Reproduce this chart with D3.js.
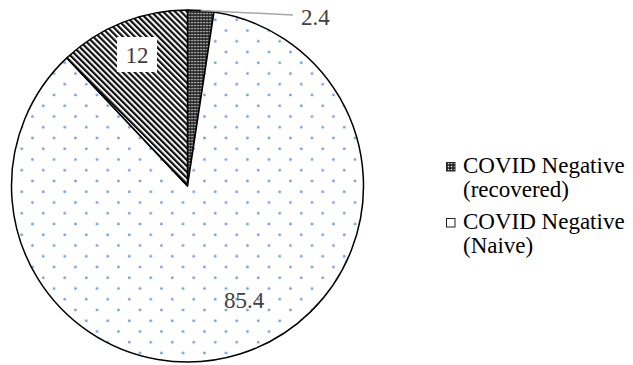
<!DOCTYPE html>
<html>
<head>
<meta charset="utf-8">
<script src="https://cdn.jsdelivr.net/npm/d3@7"></script>
<style>
  html, body { margin: 0; padding: 0; background: #fff; }
  svg { display: block; }
</style>
</head>
<body>
<svg id="chart" width="633" height="365"></svg>
<script>
// Slice values, clockwise from 12 o'clock
const sliceValues = [2.4, 85.4, 12];
const sliceFills = ["url(#crosshatch)", "url(#dots)", "url(#stripes)"];
// Legend entries (label lines) and the icon fill for each
const legendLabels = [["COVID Negative", "(recovered)"], ["COVID Negative", "(Naive)"]];
const legendFills = ["url(#crosshatch)", "#ffffff"];

const FONT = "'Liberation Serif', Tinos, 'Times New Roman', Times, serif";

const svg = d3.select("#chart");
const cx = 187.5, cy = 186, R = 176;

// ---- fill patterns ----
const defs = svg.append("defs");

const ch = defs.append("pattern").attr("id", "crosshatch")
  .attr("patternUnits", "userSpaceOnUse").attr("width", 3).attr("height", 3);
ch.append("rect").attr("width", 3).attr("height", 3).attr("fill", "#1c1c1c");
ch.append("rect").attr("x", 0.8).attr("y", 0.8).attr("width", 1.5).attr("height", 1.5).attr("fill", "#e8e8e8");

const st = defs.append("pattern").attr("id", "stripes")
  .attr("patternUnits", "userSpaceOnUse").attr("width", 4.2).attr("height", 10)
  .attr("patternTransform", "rotate(-45)");
st.append("rect").attr("width", 4.2).attr("height", 10).attr("fill", "#fff");
st.append("rect").attr("width", 2.2).attr("height", 10).attr("fill", "#111");

const P = 21.5;
const dp = defs.append("pattern").attr("id", "dots")
  .attr("patternUnits", "userSpaceOnUse").attr("width", P).attr("height", P);
dp.append("rect").attr("width", P).attr("height", P).attr("fill", "#fff");
[[17, 16.5], [6.25, 5.75]].forEach(([x, y]) => {
  dp.append("circle").attr("cx", x).attr("cy", y).attr("r", 1.4).attr("fill", "#6f9fda");
});

// ---- pie ----
const pie = d3.pie().sort(null).value(d => d)(sliceValues);
const arc = d3.arc().innerRadius(0).outerRadius(R);

const g = svg.append("g").attr("transform", `translate(${cx},${cy})`);
g.selectAll("path.slice").data(pie).join("path")
  .attr("class", "slice")
  .attr("d", arc)
  .attr("fill", (d, i) => sliceFills[i])
  .attr("stroke", "#000")
  .attr("stroke-width", 1.5)
  .attr("stroke-linejoin", "round");

// ---- data labels ----
const labelColor = "#404040";
const fmt = v => String(v);

// small slice: leader line to an outside label
const small = pie[0];
const mid = (small.startAngle + small.endAngle) / 2;
const p0 = [R * Math.sin(mid), -R * Math.cos(mid)];
const p1 = [293 - cx, 15 - cy];
g.append("line")
  .attr("x1", p0[0]).attr("y1", p0[1]).attr("x2", p1[0]).attr("y2", p1[1])
  .attr("stroke", "#a6a6a6").attr("stroke-width", 1.5);
g.append("text")
  .attr("x", p1[0] + 8).attr("y", p1[1] + 10)
  .attr("font-family", FONT).attr("font-size", 23).attr("fill", labelColor)
  .text(fmt(small.data));

// large slice label
const big = pie[1];
g.append("text")
  .attr("x", 244 - cx).attr("y", 308 - cy)
  .attr("text-anchor", "middle")
  .attr("font-family", FONT).attr("font-size", 23).attr("fill", labelColor)
  .text(fmt(big.data));

// striped slice label on a white box
const mdl = pie[2];
const lx = 137 - cx, ly = 63 - cy;
g.append("rect")
  .attr("x", lx - 20).attr("y", ly - 26).attr("width", 40).attr("height", 35)
  .attr("fill", "#fff");
g.append("text")
  .attr("x", lx).attr("y", ly)
  .attr("text-anchor", "middle")
  .attr("font-family", FONT).attr("font-size", 23).attr("fill", labelColor)
  .text(fmt(mdl.data));

// ---- legend ----
const legend = svg.append("g");
const baselines = [173, 229];
legendLabels.forEach((lines, i) => {
  const b = baselines[i];
  legend.append("rect")
    .attr("x", 446.5).attr("y", b - 10.5).attr("width", 8.5).attr("height", 8.5)
    .attr("fill", legendFills[i]).attr("stroke", "#222").attr("stroke-width", 1);
  const t = legend.append("text")
    .attr("x", 463).attr("y", b)
    .attr("font-family", FONT).attr("font-size", 23).attr("fill", "#000");
  lines.forEach((ln, j) => {
    t.append("tspan").attr("x", 463).attr("y", b + j * 24).text(ln);
  });
});
</script>
</body>
</html>
